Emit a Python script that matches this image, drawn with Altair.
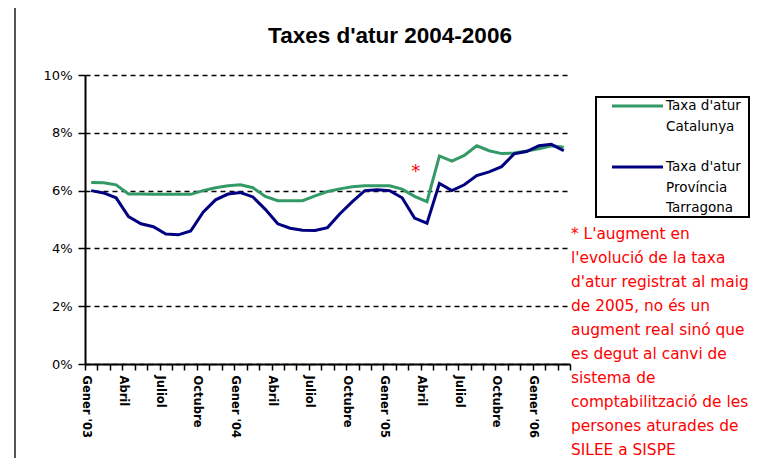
import json
import altair as alt
import pandas as pd

# ---- data ----
chart_title = "Taxes d'atur 2004-2006"
tick_labels = ["Gener '03", "Abril", "Juliol", "Octubre",
               "Gener '04", "Abril", "Juliol", "Octubre",
               "Gener '05", "Abril", "Juliol", "Octubre",
               "Gener '06"]
series_names = ["Taxa d'atur Catalunya", "Taxa d'atur Província Tarragona"]
legend_texts = [["Taxa d'atur", "Catalunya"],
                ["Taxa d'atur", "Província", "Tarragona"]]
series_colors = ["#339966", "#000080"]

catalunya = [6.28, 6.27, 6.20, 5.88, 5.88, 5.87, 5.87, 5.87, 5.87, 6.00,
             6.10, 6.17, 6.20, 6.10, 5.80, 5.65, 5.65, 5.65, 5.82, 5.97,
             6.06, 6.13, 6.17, 6.17, 6.17, 6.05, 5.80, 5.62, 7.20, 7.02,
             7.22, 7.55, 7.38, 7.28, 7.30, 7.37, 7.45, 7.55, 7.50]
tarragona = [6.00, 5.92, 5.75, 5.10, 4.85, 4.75, 4.50, 4.47, 4.60, 5.25,
             5.68, 5.88, 5.93, 5.78, 5.35, 4.85, 4.70, 4.63, 4.62, 4.72,
             5.20, 5.62, 6.00, 6.03, 6.00, 5.75, 5.05, 4.87, 6.25, 6.00,
             6.20, 6.52, 6.65, 6.83, 7.27, 7.35, 7.55, 7.60, 7.38]

star_month = [26.6]
star_value = [6.66]

note_lines = ["* L'augment  en",
              "l'evolució  de la taxa",
              "d'atur registrat al maig",
              "de 2005, no és un",
              "augment real sinó que",
              "es degut al canvi de",
              "sistema de",
              "comptabilització de les",
              "persones aturades de",
              "SILEE a SISPE"]

n_months = len(catalunya)

df_cat = pd.DataFrame({"mes": [i + 0.5 for i in range(n_months)], "taxa": catalunya})
df_tar = pd.DataFrame({"mes": [i + 0.5 for i in range(n_months)], "taxa": tarragona})
df_star = pd.DataFrame({"mes": star_month, "taxa": star_value})
one = pd.DataFrame({"a": [0]})

label_expr = ("datum.value % 3 === 0 ? " + json.dumps(tick_labels, ensure_ascii=False)
              + "[datum.value / 3] : ''")

x_scale = alt.Scale(domain=[0, n_months], nice=False, zero=False)
y_scale = alt.Scale(domain=[0, 10], nice=False)

x_axis = alt.Axis(values=list(range(n_months + 1)), labelExpr=label_expr,
                  labelAngle=90, labelAlign="left", labelBaseline="middle",
                  labelFont="DejaVu Sans", labelFontSize=11.5, labelFontWeight="bold",
                  labelColor="black", labelPadding=5, labelOverlap=False,
                  labelBound=False, labelFlush=False,
                  tickSize=6, tickColor="black", tickWidth=1.5,
                  domainColor="black", domainWidth=2, grid=False, title=None)
y_axis = alt.Axis(values=[0, 2, 4, 6, 8, 10], labelExpr="datum.value + '%'",
                  labelFont="DejaVu Sans", labelFontSize=13, labelColor="black",
                  labelPadding=6, tickSize=7, tickColor="black", tickWidth=1.5,
                  domainColor="black", domainWidth=2, labelOverlap=False,
                  grid=True, gridColor="black", gridDash=[5, 4], gridWidth=1.5,
                  gridOpacity=1, title=None)

x_enc = alt.X("mes:Q", scale=x_scale, axis=x_axis)
y_enc = alt.Y("taxa:Q", scale=y_scale, axis=y_axis)

line_cat = alt.Chart(df_cat).mark_line(color=series_colors[0], strokeWidth=3).encode(x=x_enc, y=y_enc)
line_tar = alt.Chart(df_tar).mark_line(color=series_colors[1], strokeWidth=3).encode(x=x_enc, y=y_enc)
star = alt.Chart(df_star).mark_text(text="*", color="#FF0000", fontSize=18,
                                    font="DejaVu Sans").encode(x=x_enc, y=y_enc)

title_mark = alt.Chart(one).mark_text(text=chart_title, font="Liberation Sans", fontSize=22.5,
                                      fontWeight="bold", color="black", align="center",
                                      baseline="middle").encode(x=alt.value(305), y=alt.value(-39))

note = alt.Chart(one).mark_text(text=note_lines, color="#FF0000", font="DejaVu Sans",
                                fontSize=15.4, align="left", baseline="top",
                                lineHeight=24).encode(x=alt.value(486), y=alt.value(152))

legend_box = alt.Chart(one).mark_rect(fill="white", stroke="black", strokeWidth=2).encode(
    x=alt.value(511), x2=alt.value(664), y=alt.value(22), y2=alt.value(142))
leg_line1 = alt.Chart(one).mark_rule(color=series_colors[0], strokeWidth=3).encode(
    x=alt.value(527), x2=alt.value(578), y=alt.value(31))
leg_line2 = alt.Chart(one).mark_rule(color=series_colors[1], strokeWidth=3).encode(
    x=alt.value(527), x2=alt.value(578), y=alt.value(92))
leg_text1 = alt.Chart(one).mark_text(text=legend_texts[0], font="DejaVu Sans", fontSize=13.5,
                                     align="left", baseline="top", lineHeight=21,
                                     color="black").encode(x=alt.value(581), y=alt.value(24))
leg_text2 = alt.Chart(one).mark_text(text=legend_texts[1], font="DejaVu Sans", fontSize=13.5,
                                     align="left", baseline="top", lineHeight=20.5,
                                     color="black").encode(x=alt.value(581), y=alt.value(85))

border_left = alt.Chart(one).mark_rule(color="#555555", strokeWidth=2).encode(
    x=alt.value(-70), y=alt.value(-70), y2=alt.value(420))
border_top = alt.Chart(one).mark_rule(color="#555555", strokeWidth=2).encode(
    x=alt.value(-70), x2=alt.value(700), y=alt.value(-70))

chart = alt.layer(
    line_cat, line_tar, star, title_mark, note,
    legend_box, leg_line1, leg_line2, leg_text1, leg_text2,
    border_left, border_top
).properties(
    width=485, height=289,
    autosize=alt.AutoSizeParams(type="none"),
    padding={"left": 77, "top": 67, "right": 180, "bottom": 94},
    background="white"
).configure_view(stroke=None).configure_axis(labelOverlap=False)

chart.save("out.html", embed_options={"renderer": "svg", "actions": False})
